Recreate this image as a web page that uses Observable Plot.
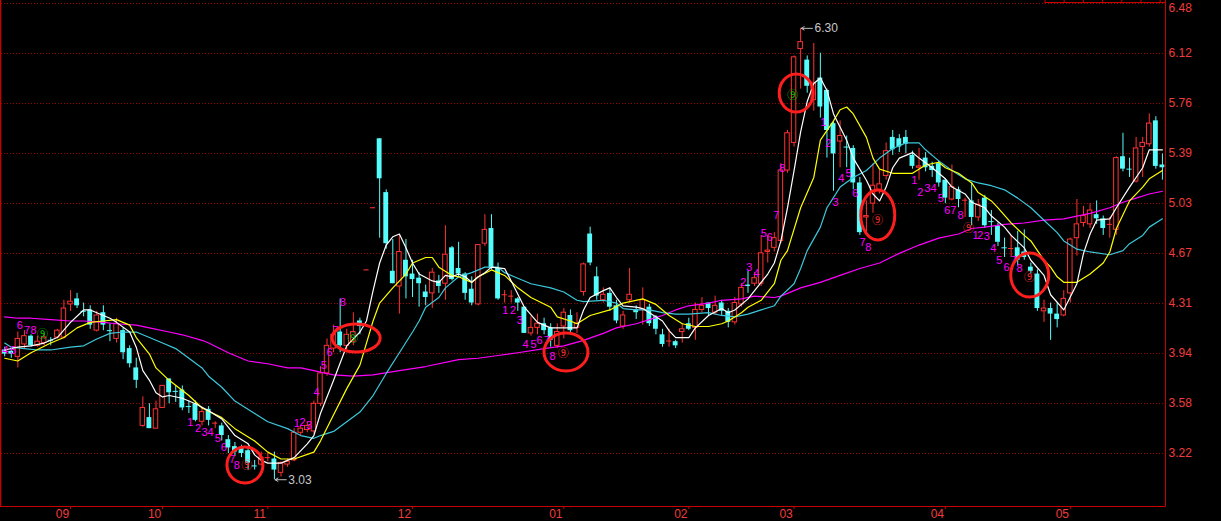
<!DOCTYPE html>
<html><head><meta charset="utf-8">
<script src="https://cdn.jsdelivr.net/npm/d3@7"></script>
<script src="https://cdn.jsdelivr.net/npm/@observablehq/plot@0.6"></script>
<style>
html,body{margin:0;padding:0;background:#000;overflow:hidden}
#chart svg{display:block}
</style></head><body><div id="chart"></div>
<script>
// ---------- data ----------
const monthLabels = ["09","10","11","12","01","02","03","04","05"];
const monthIndex  = [10,24,40,62,85,104,120,143,162];
const priceTicks  = [3.22,3.582,3.944,4.307,4.669,5.031,5.393,5.755,6.118,6.48];
const priceLabels = ["3.22","3.58","3.94","4.31","4.67","5.03","5.39","5.76","6.12","6.48"];

const open = [3.97,3.96,3.92,4.01,4.07,4.00,4.02,4.045,4.06,4.06,4.30,4.34,4.255,4.26,4.11,4.24,4.115,4.05,4.11,3.98,
3.84,3.42,3.48,3.40,3.55,3.76,3.675,3.68,3.565,3.58,3.45,3.54,3.435,3.42,3.32,3.27,3.26,3.24,3.135,3.14,
3.185,3.18,3.08,3.14,3.17,3.37,3.39,3.38,3.58,3.80,3.98,4.10,4.00,4.03,4.18,4.545,4.995,5.50,5.11,4.54,
4.43,4.62,4.52,4.49,4.39,4.38,4.47,4.45,4.71,4.56,4.52,4.41,4.30,4.74,4.85,4.56,4.365,4.355,4.34,4.28,
4.09,4.13,4.16,4.13,4.00,4.14,4.22,4.13,4.39,4.81,4.50,4.33,4.38,4.29,4.14,4.33,4.26,4.26,4.28,4.21,
4.08,4.03,4.03,4.10,4.16,4.13,4.26,4.31,4.24,4.31,4.25,4.17,4.30,4.44,4.45,4.45,4.68,4.71,4.76,5.27,
5.47,6.15,6.07,5.78,5.94,5.85,5.61,5.48,5.445,5.43,5.18,4.93,5.03,5.13,5.23,5.51,5.50,5.51,5.38,5.29,
5.36,5.30,5.32,5.20,5.06,5.13,5.05,5.05,4.93,5.07,4.905,4.87,4.715,4.70,4.71,4.68,4.57,4.52,4.25,4.27,
4.23,4.22,4.38,4.78,4.89,4.88,4.95,4.92,4.875,4.84,5.37,5.285,5.19,5.44,5.46,5.63,5.31];
const high = [3.99,3.98,4.10,4.11,4.08,4.07,4.09,4.06,4.12,4.33,4.40,4.38,4.31,4.29,4.25,4.29,4.16,4.20,4.13,4.00,
3.91,3.63,3.58,3.60,3.71,3.76,3.71,3.71,3.60,3.60,3.55,3.56,3.45,3.44,3.35,3.30,3.28,3.26,3.17,3.23,
3.22,3.23,3.16,3.18,3.40,3.42,3.45,3.60,3.85,4.05,4.15,4.34,4.12,4.24,4.20,4.55,5.00,5.50,5.13,4.77,
4.80,4.77,4.62,4.53,4.44,4.56,4.51,4.87,4.72,4.75,4.53,4.50,4.73,4.95,4.95,4.60,4.40,4.40,4.35,4.28,
4.21,4.23,4.20,4.16,4.16,4.27,4.26,4.24,4.60,4.86,4.57,4.42,4.42,4.33,4.25,4.56,4.29,4.42,4.30,4.22,
4.12,4.12,4.04,4.16,4.20,4.31,4.35,4.31,4.36,4.33,4.27,4.35,4.45,4.54,4.53,4.80,4.80,4.82,5.32,5.56,
6.10,6.30,6.10,6.19,6.12,5.86,5.62,5.63,5.52,5.45,5.22,5.05,5.32,5.27,5.47,5.56,5.53,5.56,5.41,5.43,
5.40,5.33,5.34,5.21,5.31,5.15,5.07,5.18,5.06,5.09,4.98,4.89,4.78,4.80,4.83,4.84,4.60,4.55,4.33,4.31,
4.31,4.40,4.78,5.06,5.01,5.03,5.05,4.94,4.93,5.37,5.54,5.36,5.51,5.51,5.68,5.66,5.39];
const low = [3.92,3.91,3.84,3.98,3.99,3.99,4.00,4.00,4.05,4.05,4.25,4.27,4.21,4.12,4.10,4.11,4.03,4.02,3.90,3.84,
3.69,3.41,3.40,3.40,3.55,3.58,3.59,3.53,3.51,3.45,3.42,3.42,3.40,3.31,3.22,3.20,3.19,3.10,3.10,3.13,
3.16,3.03,3.05,3.12,3.16,3.35,3.37,3.36,3.56,3.78,3.95,3.95,3.97,4.00,4.08,4.545,4.995,4.78,4.70,4.45,
4.23,4.34,4.35,4.28,4.29,4.27,4.38,4.33,4.47,4.50,4.33,4.29,4.29,4.72,4.55,4.33,4.31,4.31,4.25,4.09,
4.07,4.08,4.08,3.99,3.98,4.05,4.08,4.09,4.36,4.58,4.33,4.31,4.25,4.16,4.12,4.31,4.19,4.15,4.14,4.08,
3.99,3.99,3.98,4.02,4.11,4.04,4.24,4.22,4.22,4.22,4.13,4.15,4.28,4.38,4.43,4.43,4.60,4.68,4.74,5.25,
5.44,5.86,5.83,5.70,5.65,5.36,5.12,5.29,5.29,5.13,4.80,4.81,4.96,5.10,5.20,5.38,5.40,5.39,5.28,5.20,
5.26,5.22,5.15,5.03,5.05,5.00,4.93,4.87,4.90,4.85,4.80,4.72,4.64,4.64,4.58,4.62,4.52,4.25,4.17,4.04,
4.13,4.21,4.31,4.65,4.86,4.85,4.88,4.80,4.78,4.80,5.26,5.22,5.18,5.22,5.44,5.28,5.20];
const close = [3.94,3.94,4.05,4.07,4.00,4.03,4.06,4.04,4.11,4.27,4.32,4.29,4.25,4.15,4.22,4.15,4.11,4.16,3.95,3.87,
3.75,3.55,3.40,3.54,3.71,3.66,3.67,3.55,3.56,3.46,3.52,3.46,3.44,3.35,3.26,3.23,3.22,3.15,3.13,3.19,
3.19,3.10,3.15,3.16,3.37,3.40,3.42,3.58,3.80,4.00,4.08,4.00,4.08,4.10,4.14,4.55,5.00,5.21,4.74,4.45,
4.68,4.50,4.48,4.45,4.35,4.53,4.43,4.66,4.48,4.52,4.38,4.31,4.73,4.84,4.56,4.34,4.37,4.36,4.31,4.09,
4.13,4.16,4.11,4.04,4.10,4.24,4.11,4.16,4.59,4.60,4.36,4.37,4.28,4.18,4.22,4.37,4.24,4.33,4.16,4.12,
4.01,4.035,4.00,4.12,4.12,4.26,4.29,4.27,4.29,4.25,4.17,4.31,4.42,4.43,4.49,4.67,4.69,4.78,5.27,5.54,
6.09,6.20,5.88,5.90,5.73,5.56,5.39,5.52,5.44,5.18,4.82,4.94,5.16,5.17,5.41,5.42,5.44,5.46,5.30,5.30,
5.29,5.27,5.18,5.07,5.15,5.06,5.055,4.93,5.02,4.87,4.90,4.75,4.71,4.705,4.62,4.64,4.54,4.27,4.27,4.23,
4.19,4.34,4.77,4.88,4.94,4.98,4.92,4.85,4.88,5.36,5.28,5.28,5.43,5.47,5.61,5.30,5.29];

// moving-average lines: [candle index, price]
const ma5 = [[0,3.97],[2,3.99],[4,4.00],[6,4.02],[8,4.06],[10,4.17],[12,4.26],[13,4.26],[15,4.22],[16,4.20],[17,4.17],[19,4.10],[20,3.99],[21,3.82],[22,3.75],[23,3.66],[24,3.63],[25,3.64],[27,3.62],[29,3.58],[31,3.53],[33,3.47],[35,3.35],[37,3.29],[38,3.21],[39,3.17],[40,3.15],[42,3.15],[44,3.19],[46,3.29],[47,3.35],[48,3.51],[50,3.75],[52,4.00],[54,4.10],[55,4.18],[56,4.40],[57,4.60],[58,4.73],[59,4.79],[60,4.81],[61,4.71],[62,4.60],[63,4.52],[65,4.47],[66,4.46],[67,4.51],[68,4.50],[69,4.52],[70,4.50],[71,4.46],[72,4.50],[73,4.53],[74,4.57],[76,4.56],[77,4.47],[79,4.28],[81,4.17],[83,4.13],[85,4.13],[87,4.13],[88,4.26],[89,4.35],[91,4.40],[92,4.42],[93,4.35],[94,4.29],[96,4.28],[97,4.27],[98,4.24],[100,4.18],[101,4.11],[102,4.06],[104,4.06],[105,4.13],[107,4.22],[109,4.27],[110,4.24],[111,4.26],[113,4.34],[114,4.40],[116,4.52],[117,4.60],[118,4.76],[119,5.00],[120,5.27],[121,5.55],[122,5.77],[123,5.90],[124,5.94],[125,5.85],[126,5.68],[128,5.49],[129,5.36],[131,5.20],[132,5.10],[133,5.05],[134,5.15],[135,5.29],[136,5.36],[138,5.40],[139,5.36],[141,5.29],[143,5.21],[144,5.15],[146,5.10],[147,5.04],[149,5.00],[150,4.94],[152,4.86],[153,4.80],[155,4.71],[156,4.62],[158,4.51],[159,4.37],[161,4.26],[163,4.45],[164,4.67],[165,4.81],[166,4.91],[168,4.92],[169,5.00],[171,5.15],[173,5.29],[174,5.42],[176,5.42]];
const ma10 = [[0,3.91],[2,3.89],[4,3.95],[7,4.02],[9,4.06],[11,4.13],[13,4.17],[15,4.18],[17,4.19],[19,4.15],[20,4.06],[22,3.94],[23,3.84],[25,3.75],[28,3.64],[30,3.55],[33,3.48],[35,3.40],[38,3.31],[40,3.23],[42,3.18],[44,3.18],[47,3.23],[48,3.31],[50,3.50],[52,3.69],[54,3.86],[56,4.18],[57,4.31],[59,4.42],[61,4.52],[62,4.60],[64,4.64],[65,4.64],[66,4.57],[68,4.51],[69,4.50],[71,4.46],[72,4.50],[74,4.55],[76,4.51],[78,4.42],[80,4.35],[83,4.28],[84,4.21],[86,4.18],[87,4.16],[89,4.22],[92,4.26],[94,4.31],[97,4.34],[99,4.30],[101,4.22],[103,4.16],[105,4.14],[107,4.14],[109,4.16],[110,4.18],[112,4.24],[113,4.28],[115,4.33],[117,4.45],[118,4.62],[119,4.69],[121,5.00],[123,5.22],[124,5.49],[126,5.63],[127,5.71],[128,5.73],[129,5.68],[131,5.51],[132,5.36],[133,5.28],[135,5.25],[137,5.25],[138,5.25],[140,5.31],[142,5.33],[143,5.29],[145,5.25],[147,5.18],[148,5.11],[150,5.05],[151,5.00],[153,4.89],[155,4.80],[156,4.76],[157,4.69],[158,4.62],[159,4.57],[160,4.50],[161,4.46],[163,4.46],[165,4.52],[167,4.60],[168,4.68],[169,4.85],[171,5.05],[173,5.15],[174,5.21],[176,5.27]];
const ma20 = [[0,4.02],[1,3.99],[3,3.98],[5,3.97],[7,3.97],[10,3.99],[12,4.00],[14,4.05],[16,4.09],[18,4.10],[20,4.10],[22,4.06],[24,4.02],[26,3.98],[28,3.91],[30,3.84],[31,3.78],[33,3.70],[35,3.60],[38,3.51],[40,3.45],[43,3.40],[45,3.35],[47,3.33],[48,3.35],[50,3.38],[52,3.45],[54,3.52],[56,3.64],[58,3.80],[60,3.95],[62,4.10],[63,4.18],[64,4.28],[66,4.35],[67,4.42],[69,4.50],[71,4.53],[73,4.57],[75,4.57],[76,4.53],[78,4.49],[80,4.45],[83,4.42],[85,4.39],[87,4.33],[88,4.32],[91,4.33],[93,4.31],[94,4.27],[96,4.26],[98,4.26],[100,4.24],[102,4.23],[104,4.23],[107,4.24],[109,4.22],[111,4.21],[113,4.23],[115,4.26],[117,4.29],[118,4.36],[120,4.45],[121,4.56],[122,4.69],[124,4.86],[125,5.00],[127,5.15],[129,5.22],[131,5.27],[133,5.36],[135,5.43],[137,5.47],[139,5.47],[140,5.42],[142,5.34],[144,5.27],[146,5.21],[148,5.18],[150,5.16],[152,5.13],[154,5.07],[156,5.00],[158,4.91],[160,4.82],[161,4.76],[163,4.70],[165,4.68],[168,4.66],[170,4.69],[171,4.74],[173,4.80],[174,4.86],[176,4.92]];
const ma60 = [[0,4.21],[2,4.20],[4,4.20],[7,4.19],[10,4.18],[12,4.18],[15,4.17],[17,4.16],[20,4.15],[22,4.13],[25,4.10],[27,4.08],[30,4.04],[31,4.02],[34,3.95],[37,3.89],[40,3.87],[43,3.84],[45,3.84],[47,3.82],[48,3.81],[50,3.79],[53,3.78],[56,3.79],[60,3.82],[64,3.85],[69,3.90],[72,3.91],[75,3.93],[78,3.95],[82,3.98],[85,4.00],[88,4.04],[91,4.09],[93,4.13],[96,4.16],[98,4.19],[100,4.22],[102,4.26],[104,4.29],[107,4.31],[109,4.33],[112,4.34],[114,4.36],[117,4.35],[118,4.36],[121,4.42],[124,4.46],[127,4.51],[130,4.56],[133,4.60],[136,4.67],[139,4.73],[142,4.78],[145,4.81],[147,4.85],[149,4.86],[152,4.88],[155,4.89],[158,4.91],[161,4.92],[165,4.96],[168,5.00],[170,5.04],[172,5.07],[174,5.10],[176,5.12]];

// TD-style count digits: [index, price, text]
const tdDigits = [[0.1,3.97,"4"],[1.3,3.97,"5"],[2.3,4.15,"6"],[3.4,4.11,"7"],[4.4,4.11,"8"],
[28.2,3.444,"1"],[29.4,3.401,"2"],[30.4,3.372,"3"],[31.3,3.372,"4"],[32.4,3.329,"5"],[33.3,3.264,"6"],[34.6,3.177,"7"],[35.3,3.133,"8"],
[44.4,3.437,"1"],[45.3,3.444,"2"],[46.3,3.423,"3"],[47.4,3.662,"4"],[48.5,3.857,"5"],[49.4,3.95,"6"],[50.3,4.11,"7"],[51.4,4.314,"8"],
[76.1,4.256,"1"],[77.3,4.256,"2"],[78.3,4.183,"3"],[79.2,4.01,"4"],[80.4,4.01,"5"],[81.3,4.038,"6"],[82.4,4.038,"7"],[83.3,3.923,"8"],
[112.3,4.459,"2"],[113.2,4.567,"3"],[114.3,4.524,"4"],[115.4,4.814,"5"],[116.3,4.785,"6"],[117.3,4.944,"7"],[118.2,5.284,"8"],
[124.5,5.618,"1"],[125.2,5.466,"2"],[126.3,5.038,"3"],[127.2,5.212,"4"],[128.3,5.248,"5"],[129.3,5.103,"6"],[130.4,4.748,"7"],[131.3,4.712,"8"],
[138.3,5.198,"1"],[139.2,5.111,"2"],[140.3,5.14,"3"],[141.2,5.14,"4"],[142.3,5.067,"5"],[143.3,4.98,"6"],[144.2,4.98,"7"],[145.3,4.944,"8"],
[147.6,4.799,"1"],[148.3,4.799,"2"],[149.3,4.792,"3"],[150.3,4.705,"4"],[151.2,4.618,"5"],[152.3,4.567,"6"],[153.4,4.618,"7"],[154.3,4.56,"8"]];
// circled nines: [index, price, kind]
const tdNines = [[5.75,4.08,"up"],[36.8,3.133,"down"],[52.9,4.053,"up"],[84.9,3.944,"down"],[119.8,5.813,"up"],[132.7,4.908,"down"],[146.5,4.85,"down"],[155.8,4.495,"down"]];
// hand-drawn ellipse annotations: [index, price]
const ellipses = [[36.6,3.133],[53.5,4.053],[85.4,3.952],[120.4,5.828],[132.8,4.944],[155.9,4.509]];
// extreme price labels
const extremes = [{i:121, p:6.30, label:"6.30"},{i:41, p:3.03, label:"3.03"}];

// ---------- styles ----------
const RED = "#ff3232", CYAN = "#54fcfc", AXIS = "#c80000", GRID = "#a00000", LABEL = "#f03c3c";
const ELLIPSE_R = [[18,18],[24,14],[22,19],[17,19],[17,25],[19,22]];
const FONT = "'Liberation Sans', Arial, sans-serif";

const N = open.length;
const candles = open.map((o, i) => ({i, o, h: high[i], l: low[i], c: close[i]}));
const isDoji = d => Math.abs(d.c - d.o) < 0.008;
const upC = candles.filter(d => d.c >= d.o);
const dnC = candles.filter(d => d.c < d.o);
const upBody = upC.filter(d => !isDoji(d));
const dnBody = dnC.filter(d => !isDoji(d));
const upDoji = upC.filter(isDoji);
const dnDoji = dnC.filter(isDoji);
const labelOf = v => monthLabels[monthIndex.indexOf(v)];
const priceLabelOf = v => priceLabels[priceTicks.indexOf(v)];
const topTick = priceTicks.slice(-1), restTicks = priceTicks.slice(0, -1);

function frameMark(index, scales, values, dims) {
  const {width, height, marginRight, marginBottom, marginLeft} = dims;
  const xr = width - marginRight + 0.5, yb = height - marginBottom + 0.5;
  const g = d3.create("svg:g").attr("stroke", AXIS).attr("fill", "none");
  g.append("line").attr("x1", marginLeft - 0.5).attr("x2", marginLeft - 0.5).attr("y1", 0).attr("y2", yb).attr("stroke-width", 1.5);
  g.append("line").attr("x1", xr).attr("x2", xr).attr("y1", 0).attr("y2", yb);
  g.append("line").attr("x1", 0).attr("x2", xr).attr("y1", yb).attr("y2", yb);
  // small scroll ruler at top right
  const x0 = xr - 121;
  g.append("line").attr("x1", x0).attr("x2", xr).attr("y1", 2.5).attr("y2", 2.5);
  for (let k = 0; k <= 6; k++) {
    const x = x0 + 0.5 + k * 19.2;
    g.append("line").attr("x1", x).attr("x2", x).attr("y1", 0).attr("y2", 2.5);
  }
  return g.node();
}
function ellipseMark(index, scales) {
  const g = d3.create("svg:g").attr("fill", "none").attr("stroke", "#ff1e1e").attr("stroke-width", 3);
  ellipses.forEach(([i, p], k) => {
    g.append("ellipse").attr("cx", scales.x(i)).attr("cy", scales.y(p))
      .attr("rx", ELLIPSE_R[k][0]).attr("ry", ELLIPSE_R[k][1]);
  });
  return g.node();
}

const hw = 0.34;
const chart = Plot.plot({
  width: 1221, height: 521,
  marginLeft: 1, marginRight: 56, marginTop: 0, marginBottom: 15,
  style: {background: "#000", fontFamily: FONT, fontSize: "12px"},
  x: {domain: [0, N - 1], range: [4.2, 4.2 + 6.578 * (N - 1)], label: null},
  y: {domain: [3.22, 6.48], range: [453, 3], label: null},
  marks: [
    Plot.ruleY(priceTicks, {stroke: GRID, strokeDasharray: "1,2"}),
    frameMark,
    Plot.axisY(restTicks, {anchor: "right", tickSize: 0, tickPadding: 3, tickFormat: priceLabelOf, fill: LABEL, fontSize: 12, label: null}),
    Plot.axisY(topTick, {anchor: "right", tickSize: 0, tickPadding: 3, tickFormat: priceLabelOf, fill: LABEL, fontSize: 12, dy: 5, label: null}),
    Plot.axisX(monthIndex, {anchor: "bottom", tickSize: 3, tickFormat: () => "", stroke: AXIS, label: null}),
    Plot.axisX(monthIndex, {anchor: "bottom", tickSize: 0, tickPadding: 3, tickFormat: labelOf, fill: LABEL, fontSize: 12, dx: -8, label: null}),
    // wicks
    Plot.ruleX(upC, {x: "i", y1: "l", y2: "h", stroke: RED, strokeWidth: 1}),
    Plot.ruleX(dnC, {x: "i", y1: "l", y2: "h", stroke: CYAN, strokeWidth: 1}),
    // bodies
    Plot.rect(upBody, {x1: d => d.i - hw, x2: d => d.i + hw, y1: "o", y2: "c", fill: "#000", stroke: RED, strokeWidth: 1}),
    Plot.rect(dnBody, {x1: d => d.i - hw - 0.03, x2: d => d.i + hw + 0.03, y1: "o", y2: "c", fill: CYAN}),
    Plot.ruleY(upDoji, {y: "c", x1: d => d.i - 0.4, x2: d => d.i + 0.4, stroke: RED}),
    Plot.ruleY(dnDoji, {y: "c", x1: d => d.i - 0.4, x2: d => d.i + 0.4, stroke: CYAN}),
    // moving averages
    Plot.line(ma60, {x: d => d[0], y: d => d[1], stroke: "#ff00ff", strokeWidth: 1.2}),
    Plot.line(ma20, {x: d => d[0], y: d => d[1], stroke: "#3cc8dc", strokeWidth: 1.2}),
    Plot.line(ma10, {x: d => d[0], y: d => d[1], stroke: "#ffff00", strokeWidth: 1.2}),
    Plot.line(ma5,  {x: d => d[0], y: d => d[1], stroke: "#ffffff", strokeWidth: 1.2}),
    // counts
    Plot.text(tdDigits, {x: d => d[0], y: d => d[1], text: d => d[2], fill: "#ff00ff", fontSize: 11, fontFamily: FONT}),
    Plot.text(tdNines, {x: d => d[0], y: d => d[1], text: () => "⑨", fill: d => d[2] === "up" ? "#00c800" : "#ff3030", fontSize: 11, fontFamily: "'Noto Sans CJK SC', 'DejaVu Sans', sans-serif"}),
    ellipseMark,
    // extremes
    Plot.arrow(extremes, {x1: d => d.i + 1.8, x2: d => d.i + 0.1, y1: "p", y2: "p", stroke: "#c0c0c0", headLength: 5, strokeWidth: 1}),
    Plot.text(extremes, {x: d => d.i + 1.8, y: "p", text: "label", textAnchor: "start", dx: 2, fill: "#c8c8c8", fontSize: 12, fontFamily: FONT})
  ]
});
document.getElementById("chart").appendChild(chart);
</script>
</body></html>
